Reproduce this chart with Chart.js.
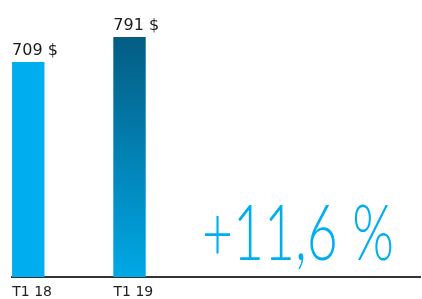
<!DOCTYPE html>
<html>
<head>
<meta charset="utf-8">
<script src="https://cdn.jsdelivr.net/npm/chart.js@4"></script>
<style>
  html, body { margin: 0; padding: 0; background: #fff; }
  #wrap { width: 422px; height: 299px; }
</style>
</head>
<body>
<div id="wrap"><canvas id="revChart"></canvas></div>
<script>
const quarters = ["T1 18", "T1 19"];
const revenue = [709, 791];
const valueLabels = ["709 $", "791 $"];

const ctx = document.getElementById("revChart").getContext("2d");

const growth = (revenue[1] / revenue[0] - 1) * 100;
const growthText = "+" + growth.toFixed(1).replace(".", ",") + " %";

function barColor(c) {
    if (c.dataIndex === 0) return "#00aeef";
    const area = c.chart.chartArea;
    if (!area) return "#0a6e98";
    const g = c.chart.ctx.createLinearGradient(0, c.chart.scales.y.getPixelForValue(revenue[1]), 0, area.bottom);
    g.addColorStop(0, "#045c82");
    g.addColorStop(1, "#00a8e6");
    return g;
}

const labelsPlugin = {
    id: "valueLabels",
    afterDatasetsDraw(chart) {
        const c = chart.ctx;
        const meta = chart.getDatasetMeta(0);
        c.save();
        c.fillStyle = "#1a1a1a";
        c.font = "16px 'DejaVu Sans'";
        c.textAlign = "left";
        c.textBaseline = "alphabetic";
        meta.data.forEach((bar, i) => {
            c.fillText(valueLabels[i], bar.x - bar.width / 2, bar.y - 7);
        });
        // big growth figure, squeezed to the reference width
        c.fillStyle = "#00aeef";
        c.font = "300 76px Lato";
        const w = c.measureText(growthText).width;
        c.translate(202, 260);
        c.scale(192 / w, 1);
        c.fillText(growthText, 0, 0);
        c.restore();
    }
};

new Chart(ctx, {
    type: "bar",
    data: {
        datasets: [{
            data: revenue.map((v, i) => ({ x: i, y: v })),
            backgroundColor: barColor,
            barPercentage: 0.32,
            categoryPercentage: 1
        }]
    },
    options: {
        responsive: true,
        maintainAspectRatio: false,
        animation: false,
        layout: { padding: { left: 12, right: 2, top: 10, bottom: 0 } },
        plugins: {
            legend: { display: false },
            tooltip: { enabled: false }
        },
        scales: {
            x: {
                type: "linear",
                offset: false,
                bounds: "data",
                min: -0.1605,
                max: 3.869,
                afterBuildTicks: (axis) => {
                    axis.ticks = quarters.map((q, i) => ({ value: i }));
                },
                afterFit: (axis) => { axis.height = 22; },
                grid: { display: false },
                border: { display: true, color: "#333", width: 2 },
                ticks: {
                    callback: (v) => quarters[v],
                    align: "start",
                    labelOffset: -16,
                    padding: -1,
                    color: "#222",
                    font: { family: "DejaVu Sans", size: 14 },
                    maxRotation: 0,
                    autoSkip: false
                }
            },
            y: {
                display: false,
                min: 0,
                max: 880
            }
        }
    },
    plugins: [labelsPlugin]
});
</script>
</body>
</html>
